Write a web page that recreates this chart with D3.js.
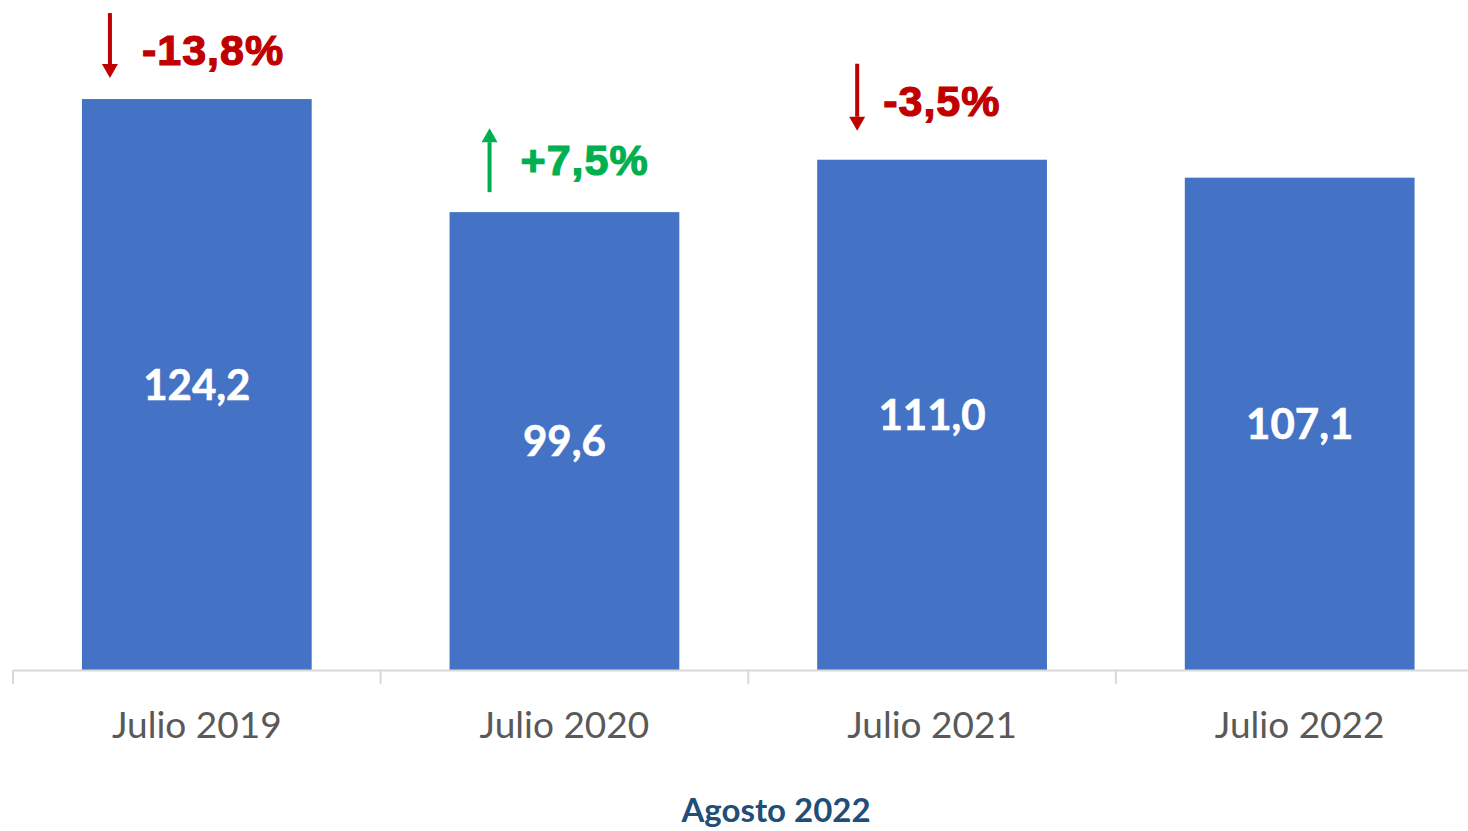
<!DOCTYPE html>
<html>
<head>
<meta charset="utf-8">
<script src="https://cdn.jsdelivr.net/npm/d3@7"></script>
<style>
html,body{margin:0;padding:0;background:#fff;}
svg{display:block;}
</style>
</head>
<body>
<svg id="chart" width="1468" height="831"></svg>
<script>
const categories = ["Julio 2019", "Julio 2020", "Julio 2021", "Julio 2022"];
const values = [124.2, 99.6, 111.0, 107.1];
const valueLabels = ["124,2", "99,6", "111,0", "107,1"];
const changeLabels = ["-13,8%", "+7,5%", "-3,5%", null];
const changeDirection = ["down", "up", "down", null];
const title = "Agosto 2022";

const svg = d3.select("#chart");
const W = 1468, H = 831;
const baseY = 670;

const x = d3.scaleBand().domain(categories).range([13, 1483.5]).paddingInner(0.375).paddingOuter(0.1875);
const y = d3.scaleLinear().domain([0, 140]).range([baseY, baseY - 140 * 4.597]);

// bars
svg.selectAll("rect.bar").data(values).enter().append("rect")
  .attr("class", "bar")
  .attr("x", (d, i) => x(categories[i]))
  .attr("y", d => y(d))
  .attr("width", x.bandwidth())
  .attr("height", d => y(0) - y(d))
  .attr("fill", "#4472C4");

// axis line and category boundary ticks
svg.append("line").attr("x1", 13).attr("x2", W).attr("y1", baseY + 0.5).attr("y2", baseY + 0.5)
  .attr("stroke", "#D9D9D9").attr("stroke-width", 2);
const step = x.step();
const boundaries = d3.range(categories.length + 1).map(i => 13 + i * step);
svg.selectAll("line.tick").data(boundaries).enter().append("line")
  .attr("x1", d => d).attr("x2", d => d)
  .attr("y1", baseY).attr("y2", baseY + 14)
  .attr("stroke", "#D9D9D9").attr("stroke-width", 2);

// category labels
svg.selectAll("text.cat").data(categories).enter().append("text")
  .attr("x", d => x(d) + x.bandwidth() / 2)
  .attr("y", 738)
  .attr("text-anchor", "middle")
  .attr("font-family", "Lato, sans-serif")
  .attr("font-size", 37)
  .attr("fill", "#595959")
  .text(d => d);

// value labels
svg.selectAll("text.val").data(values).enter().append("text")
  .attr("x", (d, i) => x(categories[i]) + x.bandwidth() / 2)
  .attr("y", d => (y(d) + y(0)) / 2)
  .attr("dy", "0.36em")
  .attr("text-anchor", "middle")
  .attr("font-family", "Lato, sans-serif")
  .attr("font-weight", "bold")
  .attr("font-size", 42)
  .attr("fill", "#FFFFFF")
  .attr("stroke", "#FFFFFF")
  .attr("stroke-width", 0.6)
  .text((d, i) => valueLabels[i]);

// change annotations
const annoOffsets = [
  {ax: 28, tx: 60, ty: -34, a0: -86, a1: -21},
  {ax: 40, tx: 71, ty: -37, a0: -84, a1: -20},
  {ax: 40, tx: 66, ty: -44, a0: -96, a1: -29}
];
changeLabels.forEach((lab, i) => {
  if (!lab) return;
  const o = annoOffsets[i];
  const left = x(categories[i]);
  const top = y(values[i]);
  const col = changeDirection[i] === "down" ? "#C00000" : "#00B050";
  const ax = left + o.ax;
  const yTop = top + o.a0, yBot = top + o.a1;
  const head = 14, hw = 8;
  if (changeDirection[i] === "down") {
    svg.append("rect").attr("x", ax - 2).attr("y", yTop).attr("width", 4).attr("height", yBot - yTop - head).attr("fill", col);
    svg.append("path").attr("d", `M${ax - hw},${yBot - head} L${ax + hw},${yBot - head} L${ax},${yBot} Z`).attr("fill", col);
  } else {
    svg.append("rect").attr("x", ax - 2).attr("y", yTop + head).attr("width", 4).attr("height", yBot - yTop - head).attr("fill", col);
    svg.append("path").attr("d", `M${ax - hw},${yTop + head} L${ax + hw},${yTop + head} L${ax},${yTop} Z`).attr("fill", col);
  }
  svg.append("text")
    .attr("x", left + o.tx)
    .attr("y", top + o.ty)
    .attr("font-family", "'Liberation Sans', Arial, sans-serif")
    .attr("font-weight", "bold")
    .attr("font-size", 43)
    .attr("letter-spacing", 1)
    .attr("fill", col)
    .attr("stroke", col)
    .attr("stroke-width", 1.2)
    .text(lab);
});

// title
svg.append("text")
  .attr("x", 776)
  .attr("y", 822)
  .attr("text-anchor", "middle")
  .attr("font-family", "Lato, sans-serif")
  .attr("font-weight", "bold")
  .attr("font-size", 33)
  .attr("fill", "#1F4E79")
  .text(title);
</script>
</body>
</html>
